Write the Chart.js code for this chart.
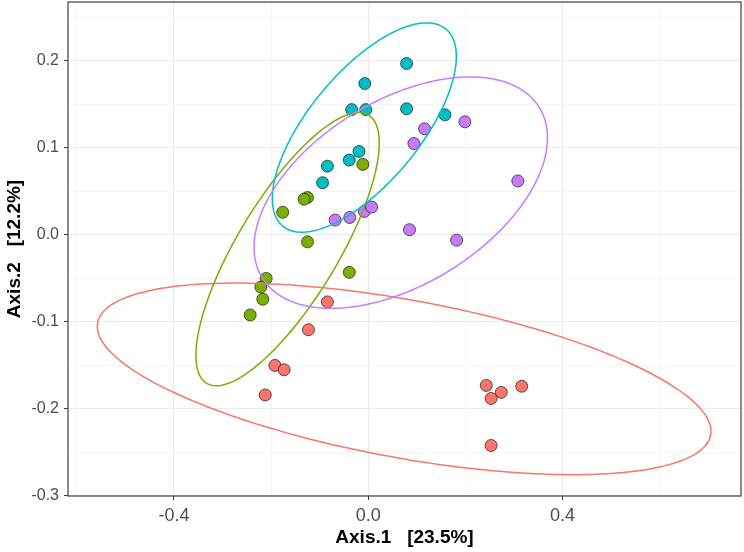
<!DOCTYPE html>
<html>
<head>
<meta charset="utf-8">
<script src="https://cdn.jsdelivr.net/npm/chart.js@4.4.1/dist/chart.umd.min.js"></script>
<style>
  html, body { margin: 0; padding: 0; background: #fff; }
  #wrap { width: 744px; height: 552px; position: relative; }
</style>
</head>
<body>
<div id="wrap"><canvas id="chart"></canvas></div>
<script>
// PCoA scores per group
const redX = [-0.084, -0.123, -0.192, -0.173, -0.212, 0.243, 0.274, 0.253, 0.316, 0.253];
const redY = [-0.077, -0.109, -0.150, -0.155, -0.184, -0.173, -0.181, -0.188, -0.174, -0.242];
const greenX = [-0.011, -0.125, -0.132, -0.176, -0.125, -0.039, -0.210, -0.221, -0.217, -0.243];
const greenY = [0.081, 0.043, 0.041, 0.026, -0.008, -0.043, -0.050, -0.060, -0.074, -0.092];
const tealX = [0.079, -0.007, -0.034, -0.005, 0.079, 0.158, -0.019, -0.039, -0.084, -0.094];
const tealY = [0.197, 0.174, 0.144, 0.144, 0.145, 0.138, 0.096, 0.086, 0.079, 0.060];
const purpleX = [-0.068, -0.038, -0.008, 0.007, 0.085, 0.182, 0.308, 0.199, 0.116, 0.094];
const purpleY = [0.017, 0.020, 0.027, 0.032, 0.006, -0.006, 0.062, 0.130, 0.122, 0.105];

// ellipses (red, green, teal, purple): centre, half extents, y offset at rightmost point
const ellipseCx = [0.074, -0.166, -0.008, 0.067];
const ellipseCy = [-0.1655, -0.0164, 0.1234, 0.0486];
const ellipseHalfW = [0.6317, 0.1887, 0.1894, 0.302];
const ellipseHalfH = [0.1101, 0.157, 0.1203, 0.133];
const ellipseRightDy = [-0.0603, 0.1221, 0.0816, 0.0629];

const xMajor = [-0.4, 0.0, 0.4];
const xMinor = [-0.6, -0.2, 0.2, 0.6];
const yMajor = [-0.3, -0.2, -0.1, 0.0, 0.1, 0.2];
const yMinor = [-0.25, -0.15, -0.05, 0.05, 0.15, 0.25];

const colors = ['#F8766D', '#7CAE00', '#00BFC4', '#C77CFF'];
const FONT = "'Liberation Sans', Arial, sans-serif";

function pts(xs, ys) {
  return xs.map(function (x, i) { return { x: x, y: ys[i] }; });
}
function isMajor(list, v) {
  return list.some(function (m) { return Math.abs(m - v) < 1e-6; });
}
function fmt(v) {
  return (Math.abs(v) < 1e-9 ? 0 : v).toFixed(1);
}
function noPad(scale) {
  scale.paddingTop = 0;
  scale.paddingBottom = 0;
  scale.paddingLeft = 0;
  scale.paddingRight = 0;
}

const ellipsePlugin = {
  id: 'ellipses',
  afterDatasetsDraw(chart) {
    const xs = chart.scales.x, ys = chart.scales.y, ctx = chart.ctx;
    const area = chart.chartArea;
    ctx.save();
    ctx.beginPath();
    ctx.rect(area.left, area.top, area.right - area.left, area.bottom - area.top);
    ctx.clip();
    for (let g = 0; g < ellipseCx.length; g++) {
      const w = ellipseHalfW[g], h = ellipseHalfH[g], k = ellipseRightDy[g];
      const s = Math.sqrt(Math.max(h * h - k * k, 0));
      ctx.beginPath();
      for (let i = 0; i <= 200; i++) {
        const t = i / 200 * Math.PI * 2;
        const px = xs.getPixelForValue(ellipseCx[g] + w * Math.cos(t));
        const py = ys.getPixelForValue(ellipseCy[g] + k * Math.cos(t) + s * Math.sin(t));
        if (i === 0) ctx.moveTo(px, py); else ctx.lineTo(px, py);
      }
      ctx.strokeStyle = colors[g];
      ctx.lineWidth = 1.5;
      ctx.stroke();
    }
    ctx.restore();
  },
  afterDraw(chart) {
    const a = chart.chartArea, ctx = chart.ctx;
    ctx.save();
    ctx.strokeStyle = '#4D4D4D';
    ctx.lineWidth = 1.3;
    ctx.strokeRect(a.left, a.top, a.right - a.left, a.bottom - a.top);
    ctx.restore();
  }
};

const groupsData = [pts(redX, redY), pts(greenX, greenY), pts(tealX, tealY), pts(purpleX, purpleY)];

new Chart(document.getElementById('chart'), {
  type: 'scatter',
  data: {
    datasets: groupsData.map(function (d, i) {
      return {
        data: d,
        backgroundColor: colors[i],
        borderColor: '#1a1a1a',
        borderWidth: 0.7,
        pointRadius: 6,
        pointHoverRadius: 6
      };
    })
  },
  options: {
    responsive: true,
    maintainAspectRatio: false,
    animation: false,
    layout: { autoPadding: false, padding: { top: 2, right: 3, left: 0, bottom: 0 } },
    plugins: { legend: { display: false }, tooltip: { enabled: false } },
    scales: {
      x: {
        type: 'linear',
        min: -0.618,
        max: 0.7674,
        afterBuildTicks(scale) {
          scale.ticks = xMinor.concat(xMajor).sort(function (a, b) { return a - b; })
            .map(function (v) { return { value: v }; });
        },
        afterFit(scale) { scale.height = 56; noPad(scale); },
        border: { display: false },
        grid: {
          color: function (c) { return isMajor(xMajor, c.tick.value) ? '#EBEBEB' : '#F3F3F3'; },
          lineWidth: function (c) { return isMajor(xMajor, c.tick.value) ? 1.1 : 0.8; },
          tickColor: function (c) { return isMajor(xMajor, c.tick.value) ? '#333333' : 'rgba(0,0,0,0)'; },
          tickLength: 4,
          tickWidth: 1
        },
        ticks: {
          autoSkip: false,
          maxRotation: 0,
          padding: 5,
          color: '#4D4D4D',
          font: { family: FONT, size: 18 },
          callback: function (v) { return isMajor(xMajor, v) ? fmt(v) : ''; }
        },
        title: {
          display: true,
          text: 'Axis.1   [23.5%]',
          color: '#000000',
          font: { family: FONT, size: 19, weight: 'bold' },
          padding: { top: 0, bottom: 3 }
        }
      },
      y: {
        type: 'linear',
        min: -0.3001,
        max: 0.2677,
        afterBuildTicks(scale) {
          scale.ticks = yMinor.concat(yMajor).sort(function (a, b) { return a - b; })
            .map(function (v) { return { value: v }; });
        },
        afterFit(scale) { scale.width = 68; noPad(scale); },
        border: { display: false },
        grid: {
          color: function (c) { return isMajor(yMajor, c.tick.value) ? '#EBEBEB' : '#F3F3F3'; },
          lineWidth: function (c) { return isMajor(yMajor, c.tick.value) ? 1.1 : 0.8; },
          tickColor: function (c) { return isMajor(yMajor, c.tick.value) ? '#333333' : 'rgba(0,0,0,0)'; },
          tickLength: 4,
          tickWidth: 1
        },
        ticks: {
          autoSkip: false,
          padding: 5,
          color: '#4D4D4D',
          font: { family: FONT, size: 16 },
          callback: function (v) { return isMajor(yMajor, v) ? fmt(v) : ''; }
        },
        title: {
          display: true,
          text: 'Axis.2   [12.2%]',
          color: '#000000',
          font: { family: FONT, size: 19, weight: 'bold' },
          padding: { top: 3, bottom: 0 }
        }
      }
    }
  },
  plugins: [ellipsePlugin]
});
</script>
</body>
</html>
